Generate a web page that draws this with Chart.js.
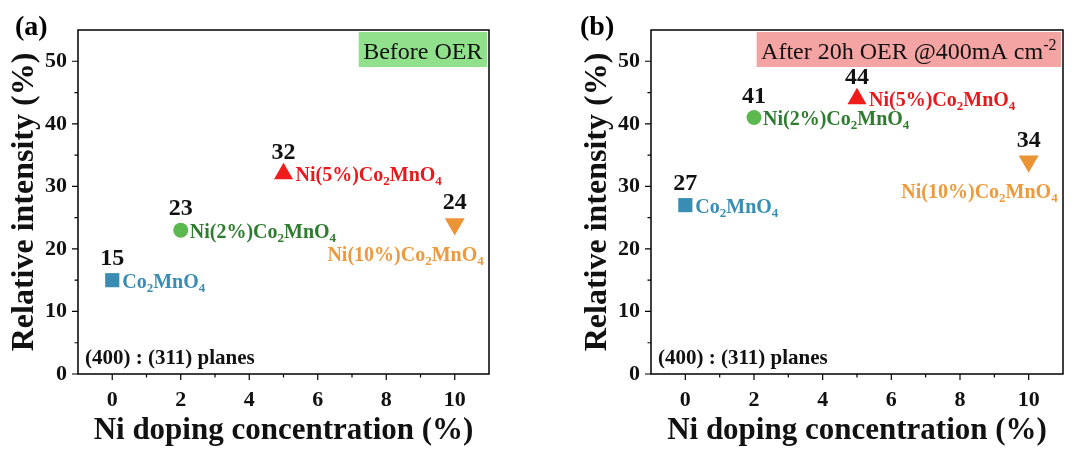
<!DOCTYPE html>
<html>
<head>
<meta charset="utf-8">
<script src="https://cdn.jsdelivr.net/npm/chart.js@4.4.1/dist/chart.umd.min.js"></script>
<style>
  html, body { margin: 0; padding: 0; background: #fff; }
  #wrap { position: relative; width: 1086px; height: 450px; }
  .panel { position: absolute; top: 0; width: 543px; height: 450px; }
</style>
</head>
<body>
<div id="wrap">
  <div class="panel" style="left:0"><canvas id="chartA" width="543" height="450"></canvas></div>
  <div class="panel" style="left:543px"><canvas id="chartB" width="543" height="450"></canvas></div>
</div>
<script>
// samples, doping level and (400):(311) intensity ratio before / after OER
const sampleNames = ['Co_{2}MnO_{4}', 'Ni(2%)Co_{2}MnO_{4}', 'Ni(5%)Co_{2}MnO_{4}', 'Ni(10%)Co_{2}MnO_{4}'];
const niDoping = [0, 2, 5, 10];
const intensityBefore = [15, 23, 32, 24];
const intensityAfter = [27, 41, 44, 34];
const xTickValues = [0, 2, 4, 6, 8, 10];
const xMinorValues = [1, 3, 5, 7, 9];
const yTickValues = [0, 10, 20, 30, 40, 50];
const yMinorValues = [5, 15, 25, 35, 45];

const SERIF = "'Liberation Serif', 'Times New Roman', serif";
const markerColors = ['#3a8db2', '#5cb94f', '#f01c1c', '#ea9436'];
const textColors = ['#3a8db2', '#2e7d2e', '#e8191c', '#ee9a3c'];
const markerStyles = ['rect', 'circle', 'triangle', 'triangle'];
const markerRotation = [0, 0, 0, 180];
const markerRadius = [10, 7.5, 11, 11.5];
// where each sample name sits relative to its marker
const namePlacement = [
  { dx: 10, dy: 1, align: 'left' },
  { dx: 9, dy: 1, align: 'left' },
  { dx: 12, dy: 0, align: 'left' },
  { dx: 29, dy: 30, align: 'right' }
];

// split "Co_{2}MnO_{4}" into plain / sub / sup pieces
function parseRich(str) {
  const parts = [];
  const re = /([_^])\{([^}]*)\}|([^_^]+)/g;
  let m;
  while ((m = re.exec(str))) {
    if (m[3]) parts.push({ text: m[3], shift: 0 });
    else parts.push({ text: m[2], shift: m[1] === '_' ? 1 : -1 });
  }
  return parts;
}

function measureRich(ctx, str, size, weight) {
  const small = Math.round(size * 0.65);
  let w = 0;
  for (const p of parseRich(str)) {
    ctx.font = `${weight} ${p.shift ? small : size}px ${SERIF}`;
    w += ctx.measureText(p.text).width;
  }
  return w;
}

// y is the vertical middle of the main text
function drawRich(ctx, str, x, y, size, weight, color, align) {
  const small = Math.round(size * 0.65);
  const w = measureRich(ctx, str, size, weight);
  let cx = align === 'right' ? x - w : align === 'center' ? x - w / 2 : x;
  const base = y + size * 0.34;
  ctx.save();
  ctx.fillStyle = color;
  ctx.textAlign = 'left';
  ctx.textBaseline = 'alphabetic';
  for (const p of parseRich(str)) {
    const fs = p.shift ? small : size;
    ctx.font = `${weight} ${fs}px ${SERIF}`;
    let by = base;
    if (p.shift === 1) by = base + size * 0.2;
    if (p.shift === -1) by = base - size * 0.38;
    ctx.fillText(p.text, cx, by);
    cx += ctx.measureText(p.text).width;
  }
  ctx.restore();
  return w;
}

function makeDecor(panel) {
  return {
    id: 'panelDecor',
    afterDatasetsDraw(chart) {
      const { ctx, chartArea: a, scales: { x, y } } = chart;
      ctx.save();
      ctx.strokeStyle = '#000';
      ctx.lineWidth = 1.5;
      ctx.strokeRect(a.left, a.top, a.right - a.left, a.bottom - a.top);

      // outward tick marks
      ctx.lineWidth = 1.2;
      ctx.beginPath();
      xTickValues.forEach(v => { const px = x.getPixelForValue(v); ctx.moveTo(px, a.bottom); ctx.lineTo(px, a.bottom + 6); });
      xMinorValues.forEach(v => { const px = x.getPixelForValue(v); ctx.moveTo(px, a.bottom); ctx.lineTo(px, a.bottom + 3.5); });
      yTickValues.forEach(v => { const py = y.getPixelForValue(v); ctx.moveTo(a.left, py); ctx.lineTo(a.left - 6, py); });
      yMinorValues.forEach(v => { const py = y.getPixelForValue(v); ctx.moveTo(a.left, py); ctx.lineTo(a.left - 3.5, py); });
      ctx.stroke();

      // value and sample labels beside each marker
      niDoping.forEach((d, i) => {
        const px = x.getPixelForValue(d);
        const py = y.getPixelForValue(panel.values[i]);
        drawRich(ctx, String(panel.values[i]), px, py - 23, 24, 'bold', '#111', 'center');
        const pl = namePlacement[i];
        drawRich(ctx, sampleNames[i], px + pl.dx, py + pl.dy, 20, 'bold', textColors[i], pl.align);
      });

      // condition box in the upper right
      const nw = measureRich(ctx, panel.note, 24, 'normal');
      const bw = nw + 9, bh = 35;
      const bx = a.right - 2 - bw, by = a.top + 2;
      ctx.fillStyle = panel.noteColor;
      ctx.fillRect(bx, by, bw, bh);
      drawRich(ctx, panel.note, bx + 4.5, by + bh / 2 + 1, 24, 'normal', '#111', 'left');

      drawRich(ctx, '(400) : (311) planes', a.left + 7, a.bottom - 17, 21, 'bold', '#111', 'left');
      drawRich(ctx, panel.tag, panel.tagX, 25, 28, 'bold', '#000', 'left');
      ctx.restore();
    }
  };
}

const panels = [
  { canvas: 'chartA', values: intensityBefore, tag: '(a)', tagX: 15, note: 'Before OER', noteColor: '#90e08c', padLeft: 0, padRight: 54 },
  { canvas: 'chartB', values: intensityAfter, tag: '(b)', tagX: 37, note: 'After 20h OER @400mA cm^{-2}', noteColor: '#f5a4a4', padLeft: 30, padRight: 23 }
];

panels.forEach(panel => {
  const datasets = sampleNames.map((name, i) => ({
    label: name,
    data: [{ x: niDoping[i], y: panel.values[i] }],
    pointStyle: markerStyles[i],
    rotation: markerRotation[i],
    pointRadius: markerRadius[i],
    backgroundColor: markerColors[i],
    borderColor: markerColors[i],
    borderWidth: 0
  }));

  new Chart(document.getElementById(panel.canvas), {
    type: 'scatter',
    data: { datasets },
    options: {
      responsive: false,
      animation: false,
      layout: { padding: { top: 30, right: panel.padRight, left: panel.padLeft, bottom: 0 } },
      plugins: { legend: { display: false }, tooltip: { enabled: false } },
      scales: {
        x: {
          type: 'linear', min: -1, max: 11,
          afterBuildTicks: s => { s.ticks = xTickValues.map(v => ({ value: v })); },
          afterFit: s => { s.height = 76; },
          grid: { display: false, drawTicks: false },
          border: { display: false },
          ticks: { color: '#111', padding: 13, font: { family: SERIF, size: 22, weight: 'bold' } },
          title: { display: true, text: 'Ni doping concentration (%)', color: '#111',
                   padding: { top: 0, bottom: 0 }, font: { family: SERIF, size: 31, weight: 'bold' } }
        },
        y: {
          type: 'linear', min: 0, max: 55,
          afterBuildTicks: s => { s.ticks = yTickValues.map(v => ({ value: v })); },
          afterFit: s => { s.width = 78; },
          grid: { display: false, drawTicks: false },
          border: { display: false },
          ticks: { color: '#111', padding: 11, font: { family: SERIF, size: 22, weight: 'bold' } },
          title: { display: true, text: 'Relative intensity (%)', color: '#111',
                   padding: { top: 6, bottom: 0 }, font: { family: SERIF, size: 32, weight: 'bold' } }
        }
      }
    },
    plugins: [makeDecor(panel)]
  });
});
</script>
</body>
</html>
